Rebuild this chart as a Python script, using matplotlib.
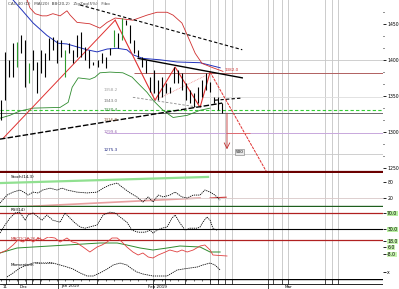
import numpy as np
import matplotlib.pyplot as plt

# ---- price bars (bar index 0..55) ----
bar_high = [1344, 1411, 1400, 1423, 1425, 1434, 1427, 1396, 1414, 1397, 1414, 1409, 1430, 1432,
            1427, 1427, 1414, 1423, 1414, 1434, 1438, 1418, 1414, 1397, 1400, 1409, 1404, 1416,
            1441, 1437, 1458, 1455, 1448, 1427, 1414, 1404, 1400, 1376, 1386, 1372, 1376, 1368,
            1362, 1390, 1386, 1382, 1368, 1358, 1354, 1362, 1372, 1382, 1369, 1348, 1348, 1340]
bar_low = [1316, 1344, 1376, 1376, 1390, 1409, 1362, 1368, 1386, 1354, 1382, 1376, 1400, 1414,
           1396, 1404, 1376, 1409, 1396, 1404, 1404, 1400, 1389, 1393, 1390, 1396, 1389, 1407,
           1418, 1416, 1427, 1448, 1423, 1409, 1404, 1390, 1382, 1355, 1354, 1344, 1348, 1354,
           1354, 1368, 1368, 1358, 1344, 1340, 1334, 1340, 1348, 1358, 1355, 1340, 1330, 1326]
green_bars = [4, 7, 16, 28, 30]

# moving average and bands
ma_x = [3.0, 5.2, 8.0, 11.4, 14.2, 16.4, 18.9, 21.4, 23.9, 26.4, 28.9, 31.3, 32.8, 35.3, 39.6, 43.8, 49.5, 54.5]
ma_y = [1483, 1469, 1451, 1434, 1423, 1422, 1418, 1414, 1411, 1415, 1416, 1414, 1407, 1402, 1400, 1397, 1396, 1389]
up_x = [6.5, 7.2, 8.5, 10.2, 11.4, 12.9, 14.7, 16.4, 17.2, 18.9, 22.1, 24.6, 26.4, 28.4, 32.8, 36.3,
        38.8, 41.3, 42.8, 45.0, 46.5, 48.3, 50.0, 52.7, 55.2]
up_y = [1483, 1472, 1464, 1461, 1461, 1464, 1461, 1468, 1462, 1452, 1450, 1444, 1452, 1458, 1455, 1462,
        1466, 1466, 1462, 1451, 1432, 1409, 1395, 1389, 1384]
lo_x = [-0.25, 2.2, 4.7, 8.0, 14.7, 16.7, 17.7, 19.2, 22.1, 23.4, 24.6, 27.1, 30.3, 32.6, 33.8, 36.3,
        37.8, 40.3, 42.8, 46.3, 49.5, 52.0]
lo_y = [1319, 1323, 1329, 1333, 1334, 1341, 1362, 1375, 1373, 1376, 1382, 1383, 1382, 1376, 1369, 1355,
        1344, 1330, 1320, 1323, 1330, 1333]

# trend lines / zigzag
rise_x, rise_y = [0.5, 28.4], [1291, 1455]
zig_x = [28.4, 38.3, 43.3, 49.5, 52.0]
zig_y = [1455, 1344, 1390, 1334, 1383]
proj_x, proj_y = [52.0, 66.2], [1383, 1243]
top_tr_x, top_tr_y = [19.7, 60.0], [1476, 1414]
low_tr_x, low_tr_y = [-0.25, 55.0], [1290, 1340]
mid_tr_x, mid_tr_y = [34.1, 60.0], [1402, 1375]
gray_tr_x, gray_tr_y = [32.8, 49.5], [1348, 1334]
short_tr_x, short_tr_y = [53.2, 60.0], [1344, 1347]
pink_tr_x, pink_tr_y = [38.3, 51.2], [1344, 1379]

fib_levels = [1358.2, 1343.0, 1330.4, 1316.8, 1299.6, 1275.3]
fib_colors = ['#a0a0a0', '#707070', '#2e7d32', '#8d5a3a', '#9c6fb5', '#1a237e']

grid_x = [1.2, 4.2, 6.2, 7.7, 9.7, 14.2, 23.9, 37.8, 40.8, 45.8, 52.0, 54.0, 55.7, 57.5,
          66.4, 67.7, 69.9, 71.4, 80.6, 82.3, 83.8]

# ---- oscillators ----
stoch_x = [-0.25, 1.5, 3.0, 4.7, 6.0, 6.7, 8.0, 9.2, 10.4, 12.2, 13.9, 15.2, 16.4, 18.9, 21.4, 23.9,
           25.4, 27.1, 28.9, 30.1, 32.1, 33.8, 35.3, 36.6, 37.8, 39.1, 40.3, 42.0, 43.3, 45.0, 46.3,
           47.8, 49.5, 50.7, 52.0, 53.2, 54.5]
stoch_y = [1, 31, 42, 50, 39, 31, 42, 39, 50, 57, 50, 57, 50, 42, 39, 42,
           57, 69, 76, 61, 39, 24, 5, 24, 5, 31, 24, 31, 42, 24, 20,
           31, 31, 50, 42, 31, 12]
rsi_x = [-0.25, 1.0, 2.2, 3.5, 4.7, 6.0, 6.7, 8.0, 9.2, 10.2, 11.4, 12.9, 14.7, 15.9, 17.2, 18.4,
         19.7, 20.9, 23.9, 25.4, 27.1, 28.4, 29.6, 31.3, 32.6, 34.1, 35.8, 37.1, 37.8, 38.8, 40.0,
         41.3, 42.5, 43.3, 44.5, 45.8, 47.0, 48.8, 49.5, 50.2, 51.2, 52.0, 52.7, 53.7]
rsi_y = [20, 40, 57, 70, 72, 52, 65, 70, 60, 52, 65, 52, 47, 70, 57, 45,
         35, 32, 40, 65, 72, 70, 60, 47, 27, 22, 22, 27, 20, 27, 32,
         35, 57, 65, 45, 27, 32, 32, 35, 47, 60, 52, 32, 27]
macd_x = [-0.25, 1.5, 3.0, 4.2, 5.5, 6.7, 8.0, 9.2, 10.4, 11.7, 13.4, 14.7, 16.4, 17.7, 18.9, 20.4,
          22.1, 23.9, 25.1, 26.4, 27.6, 28.9, 30.1, 31.3, 32.8, 34.1, 35.3, 36.6, 37.8, 39.1, 40.3,
          42.0, 43.8, 45.0, 46.3, 47.8, 49.5, 50.7, 52.0, 52.7, 56.2]
macd_y = [-6, 0, 10, 20, 16, 24, 16, 24, 20, 26, 24, 16, 24, 16, 14, 6,
          -4, 6, 10, 16, 24, 24, 16, 6, -4, -10, -6, -14, -16, -10, -6,
          0, -4, 0, -4, 0, 8, 10, 0, -10, -12]
sig_x = [-0.25, 4.0, 8.0, 16.4, 24.6, 28.9, 31.3, 34.6, 37.8, 41.3, 44.5, 49.5, 52.0, 54.5]
sig_y = [-6, 4, 6, 10, 14, 14, 10, 4, 0, 4, 8, 6, -4, -4]
vol_x = [1.5, 3.0, 4.7, 6.5, 8.0, 9.7, 11.4, 12.9, 14.7, 16.4, 17.9, 19.7, 21.4, 22.9, 24.6, 26.4,
         27.9, 29.6, 31.3, 32.6, 33.8, 35.3, 37.8, 41.3, 43.8, 45.3, 48.8, 50.2, 52.0, 53.2, 54.5]
vol_y = [2, 6, 11, 14, 16, 17, 17, 16, 14, 12, 10, 6, 3, 3, 6, 10,
         14, 16, 14, 10, 7, 5, 3, 3, 9, 10, 12, 14, 16, 14, 9]

price_ticks = [1250, 1300, 1350, 1400, 1450]
date_labels = ['11', 'Dec', 'Jan 2019', 'Feb 2019', 'Mar']
date_pos = [0.5, 4.7, 15.0, 36.6, 70.6]

H, W = 289.0, 399.0
fig = plt.figure(figsize=(3.99, 2.89), dpi=100)
fig.patch.set_facecolor('white')


def panel(top, bottom):
    a = fig.add_axes([0, 1 - bottom / H, 383 / W, (bottom - top) / H])
    a.set_xlim(-0.25, 95)
    for s in a.spines.values():
        s.set_visible(False)
    a.tick_params(axis='x', bottom=False, labelbottom=False)
    a.yaxis.tick_right()
    a.tick_params(axis='y', length=2, width=0.6, labelsize=3.3, pad=1)
    for gx in grid_x:
        a.axvline(gx, color='#cccccc', lw=0.7, zorder=0)
    return a


# main price panel
ax = panel(0, 173)
ax.set_ylim(1243, 1483)
ax.set_yticks(price_ticks)
ax.set_yticks(np.arange(1250, 1483, 50 / 3), minor=True)
ax.tick_params(axis='y', which='minor', length=1, width=0.6)

ax.axhline(1400, color='#c8c8c8', lw=0.6)
ax.hlines(1348, 50, 95, color='#dddddd', lw=0.6)
ax.hlines(1382, 33, 95, color='#b06060', lw=0.7)
ax.hlines(1298, 26, 95, color='#c8a8dc', lw=0.7)
ax.hlines(1269, 26, 95, color='#c8c8c8', lw=0.6)
ax.axhline(1330, color='#33cc33', lw=0.8, ls=(0, (3, 2)))
ax.axhline(1326, color='#555555', lw=0.6)

colors = ['#2e9a2e' if i in green_bars else 'black' for i in range(len(bar_high))]
ax.vlines(np.arange(len(bar_high)), bar_low, bar_high, colors=colors, lw=0.8, zorder=3)

ax.plot(ma_x, ma_y, color='#2233bb', lw=0.7)
ax.plot(up_x, up_y, color='#d03030', lw=0.6)
ax.plot(lo_x, lo_y, color='#2e8b2e', lw=0.6)

ax.plot(rise_x, rise_y, color='#e03030', lw=0.7)
ax.plot(zig_x, zig_y, color='#e03030', lw=0.8)
ax.plot(proj_x, proj_y, color='#e03030', lw=0.7, ls=(0, (3, 1)))
ax.plot(top_tr_x, top_tr_y, color='black', lw=0.8, ls=(0, (3, 2)))
ax.plot(low_tr_x, low_tr_y, color='black', lw=1.0, ls=(0, (4, 1.5)))
ax.plot(mid_tr_x, mid_tr_y, color='black', lw=1.0)
ax.plot(gray_tr_x, gray_tr_y, color='#888888', lw=0.6, ls=(0, (3, 2)))
ax.plot(short_tr_x, short_tr_y, color='black', lw=0.8, ls=(0, (3, 2)))
ax.plot(pink_tr_x, pink_tr_y, color='#f09090', lw=0.6, ls=(0, (1, 1)))

for lv, c in zip(fib_levels, fib_colors):
    ax.text(25.6, lv, '%.1f' % lv, color=c, fontsize=3, va='center')
ax.text(55.7, 1386, '1382.0', color='#d03030', fontsize=3, va='center')

ax.annotate('', xy=(56.2, 1272), xytext=(56.2, 1330),
            arrowprops=dict(arrowstyle='->', color='#c03030', lw=0.6))
ax.hlines(1298, 56.2, 62, color='#e06060', lw=0.6)
ax.text(58.3, 1272, '500', fontsize=3, va='center',
        bbox=dict(boxstyle='square,pad=0.2', fc='#e8e8e8', ec='#777777', lw=0.4))
ax.text(1.8, 1480, 'CAC 40 (D)   MA(20)  BB(20,2)   ZigZag(5%)   Fibo', fontsize=3,
        color='#444444', va='top')
ax.axhline(1244, color='#6b0000', lw=1.6)

# stochastic
a1 = panel(173, 207)
a1.set_ylim(-13.75, 113.75)
a1.set_yticks([20, 80])
a1.set_yticklabels(['20', '80'])
a1.plot([-0.25, 51.5], [76, 99], color='#90e090', lw=1.6)
a1.plot([4.7, 49.5], [-13, 20], color='#e8a0a0', lw=1.2)
a1.plot([52, 56], [20, 23], color='#d04040', lw=0.8)
a1.axhline(20, color='#d8c8c8', lw=0.6)
a1.axhline(-10, color='#1e5e1e', lw=1.0)
a1.plot(stoch_x, stoch_y, color='black', lw=0.6, ls=(0, (1.5, 1)))
a1.text(2.5, 108, 'Stoch(14,3)', fontsize=3, va='top')

# rsi
a2 = panel(207, 237)
a2.set_ylim(10, 85)
a2.set_yticks([30, 70])
a2.set_yticklabels(['30.0', '70.0'])
for t in a2.get_yticklabels():
    t.set_bbox(dict(boxstyle='square,pad=0.1', fc='#b8f0a0', ec='none'))
a2.axhline(70, color='#b02020', lw=0.9)
a2.axhline(30, color='black', lw=0.8)
a2.plot(rsi_x, rsi_y, color='black', lw=0.6, ls=(0, (1.5, 1)))
a2.text(2.5, 83, 'RSI(14)', fontsize=3, va='top')

# macd
a3 = panel(237, 262)
a3.set_ylim(-24, 26)
a3.set_yticks([-8, 6, 18])
a3.set_yticklabels(['-8.0', '6.0', '18.0'])
for t in a3.get_yticklabels():
    t.set_bbox(dict(boxstyle='square,pad=0.1', fc='#c8f5b0', ec='none'))
a3.axhline(20, color='#b02020', lw=0.9)
a3.plot(sig_x, sig_y, color='#2e8b2e', lw=0.7)
a3.plot(macd_x, macd_y, color='#e04040', lw=0.6)
a3.text(2.5, 25, 'MACD(12,26,9)', fontsize=3, color='#c03030', va='top')

# lower oscillator
a4 = panel(262, 279)
a4.set_ylim(0, 17)
a4.set_yticks([7])
a4.set_yticklabels(['x'])
a4.plot(vol_x, vol_y, color='black', lw=0.6, ls=(0, (1.5, 1)))
a4.text(2.5, 16.5, 'Momentum', fontsize=3, va='top')
a4.plot([8.5, 13], [16, 16], color='black', lw=0.5, ls=(0, (1.5, 1)))

# date axis
ax5 = fig.add_axes([0, 0, 383 / W, 10 / H])
ax5.set_xlim(-0.25, 95)
ax5.set_ylim(0, 10)
ax5.axis('off')
ax5.axhline(10, color='black', lw=1.0)
ax5.axhline(5, color='black', lw=0.6)
ax5.vlines(grid_x, 5, 10, color='black', lw=0.5)
ax5.vlines(np.arange(0, 56, 2), 8.5, 10, color='black', lw=0.4)
for p, lab in zip(date_pos, date_labels):
    ax5.text(p, 2.5, lab, fontsize=3, va='center')
ax5.vlines([14.2, 37.8, 66.4], 0, 5, color='black', lw=0.5)

fig.savefig('out.png', dpi=100, facecolor='white')
